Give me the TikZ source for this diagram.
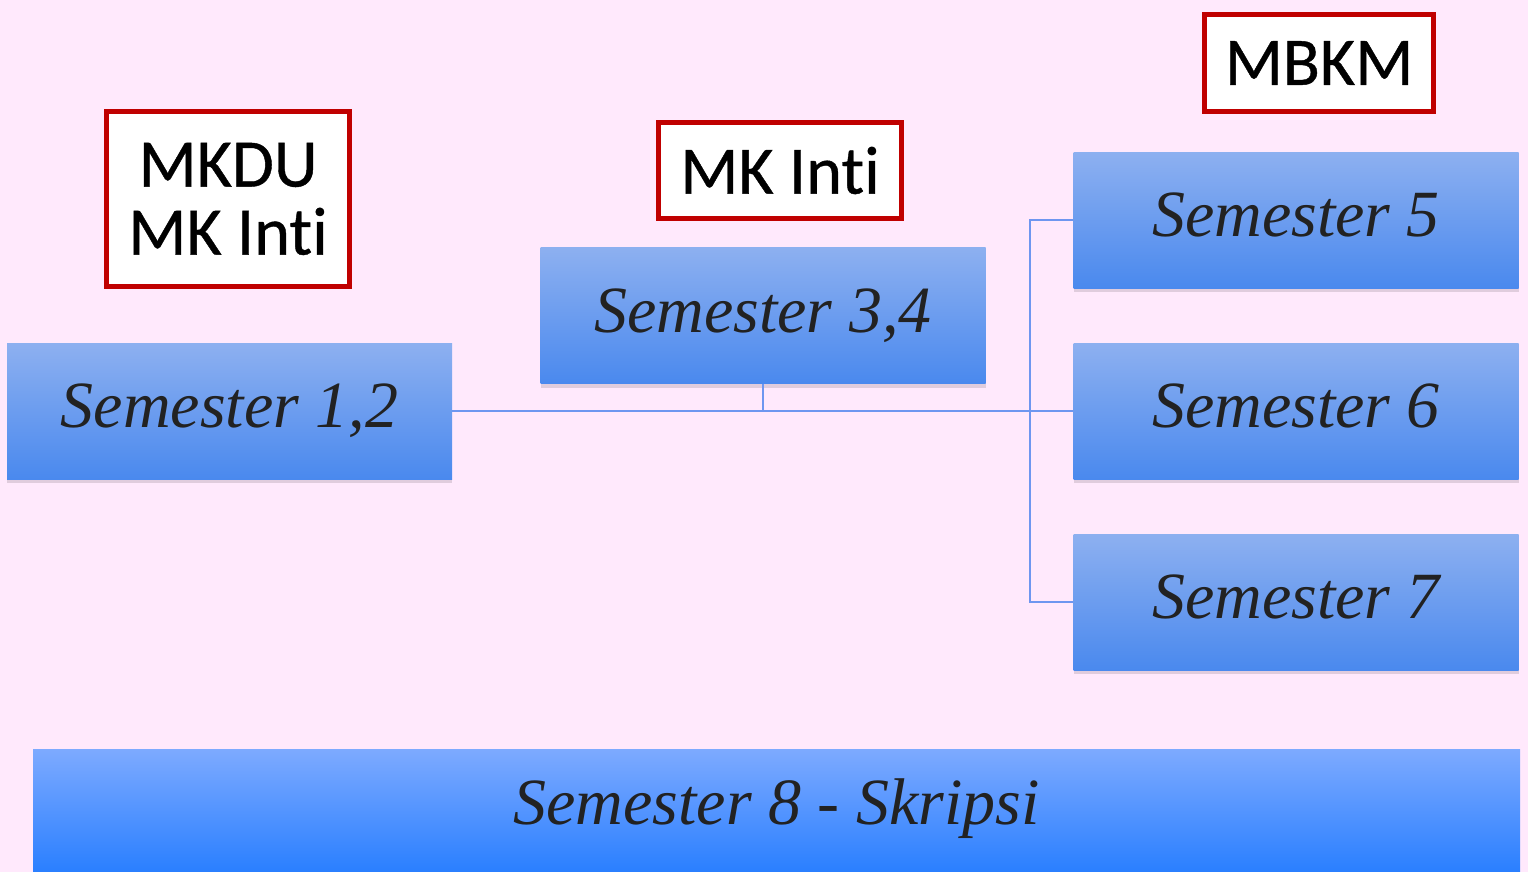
\documentclass[tikz,border=0pt]{standalone}
\usepackage{fontspec}
\setmainfont{Liberation Serif}
\newfontfamily\labelfont[Ligatures=NoCommon,FakeBold=0.6]{Carlito}
\usetikzlibrary{shadows}
\definecolor{bgpink}{HTML}{FFE9FC}
\definecolor{linkblue}{HTML}{6E96F0}
\definecolor{boxtop}{HTML}{8DB0F0}
\definecolor{boxbot}{HTML}{4A89EE}
\definecolor{bigtop}{HTML}{7DAAFF}
\definecolor{bigbot}{HTML}{2A7FFF}
\definecolor{labelred}{HTML}{C00000}
\definecolor{inktext}{HTML}{222222}
\tikzset{
  sembox/.style={top color=boxtop, bottom color=boxbot, draw=none,
    minimum width=445, minimum height=136, inner sep=0pt,
    text=inktext, font=\fontsize{66}{70}\selectfont\itshape,
    drop shadow={shadow xshift=0pt, shadow yshift=-4pt, fill=black, opacity=0.12}},
  bigbox/.style={top color=bigtop, bottom color=bigbot, draw=none,
    minimum width=1487, minimum height=123, inner sep=0pt,
    text=inktext, font=\fontsize{66}{70}\selectfont\itshape},
  tagbox/.style={draw=labelred, line width=4.5pt, fill=white, inner sep=0pt,
    align=center, font=\labelfont\fontsize{68}{76}\selectfont, text=black},
  link/.style={draw=linkblue, line width=2pt}
}
\begin{document}
\begin{tikzpicture}[x=1pt,y=-1pt]
\clip (0,0) rectangle (1528,872);
\fill[bgpink] (0,0) rectangle (1528,872);
% boxes
\node[sembox] (s12) at (229.5,411) {\raisebox{0.35ex}{Semester 1,2}};
\node[sembox] (s34) at (763,315.5) {\raisebox{0.35ex}{Semester 3,4}};
\node[sembox] (s5) at (1296,220) {\raisebox{0.35ex}{Semester 5}};
\node[sembox] (s6) at (1296,411) {\raisebox{0.35ex}{Semester 6}};
\node[sembox] (s7) at (1296,602) {\raisebox{0.35ex}{Semester 7}};
\node[bigbox] (s8) at (776.5,810.5) {\raisebox{0.6ex}{Semester 8 - Skripsi}};
% tags
\node[tagbox, minimum width=243, minimum height=175] (t1) at (228,199) {MKDU\\[-8pt]MK Inti};
\node[tagbox, minimum width=243, minimum height=96] (t2) at (780,170.5) {MK Inti};
\node[tagbox, minimum width=229, minimum height=97] (t3) at (1319,63) {MBKM};
% connectors
\coordinate (jx) at (1030,411);
\draw[link] (s12.east) -- (s6.west);
\draw[link] (s34.south) -- (s34.south |- s12.east);
\draw[link] (s5.west) -| (jx) |- (s7.west);
\end{tikzpicture}
\end{document}
